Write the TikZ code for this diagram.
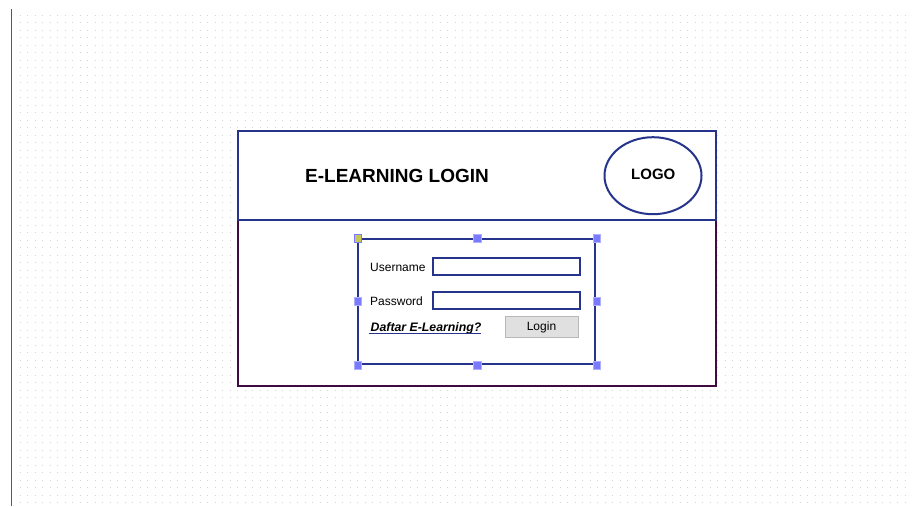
\documentclass[tikz,border=0pt]{standalone}
\usepackage{fontspec}
\setmainfont{Liberation Sans}
\usetikzlibrary{shapes.geometric}
\definecolor{frameblue}{RGB}{38,52,140}
\definecolor{framepurple}{RGB}{62,12,64}
\definecolor{handle}{RGB}{122,122,255}
\definecolor{handley}{RGB}{200,200,90}
\definecolor{dotgray}{RGB}{212,212,212}
\definecolor{btnfill}{RGB}{224,224,224}
\definecolor{btnedge}{RGB}{184,184,184}
\begin{document}
\begin{tikzpicture}[x=1pt,y=-1pt,
  bluebox/.style={draw=frameblue,line width=2pt},
  handlebox/.style={fill=handle,draw=handle!60,line width=0.5pt,minimum size=7.5pt,inner sep=0pt,rectangle},
  lbl/.style={anchor=base west,inner sep=0pt,font=\fontsize{12}{14}\selectfont},
]
\useasboundingbox (0,0) rectangle (912,506);
\fill[white] (0,0) rectangle (912,506);
% dot grid
\foreach \i in {0,...,65}{
  \draw[dotgray,line width=1pt,dash pattern=on 1pt off 6.5pt] (19.5,15+7.5*\i) -- (908,15+7.5*\i);
}
% left vertical rule
\draw[gray!70!black,line width=1.5pt] (11.5,9) -- (11.5,506);
% outer frame
\fill[white] (238,131) rectangle (716,386);
\draw[draw=framepurple,line width=2pt] (238,220) rectangle (716,386);
\draw[bluebox] (238,131) rectangle (716,220);
\node[bluebox,ellipse,minimum width=97pt,minimum height=77pt,inner sep=0pt] (logo) at (653,175.7) {};
\node[anchor=base west,inner sep=0pt,font=\fontsize{19}{22}\selectfont\bfseries] (title) at (305,182.3) {E-LEARNING LOGIN};
\node[anchor=base west,inner sep=0pt,font=\fontsize{15}{18}\selectfont\bfseries] (logotext) at (631,179) {LOGO};
% inner login panel
\draw[bluebox] (357.7,239) rectangle (594.5,363.5);
\node[lbl] (user) at (370,271.5) {Username};
\draw[bluebox] (433.3,257.5) rectangle (579.5,275);
\node[lbl] (pass) at (370,305.5) {Password};
\draw[bluebox] (433.3,292) rectangle (579.5,309);
\node[lbl,font=\fontsize{12.3}{14}\selectfont\bfseries\itshape] (daftar) at (370.5,331) {Daftar E-Learning?};
\draw[frameblue,line width=1.5pt] (369,333.7) -- (481,333.7);
\node[draw=btnedge,fill=btnfill,line width=1pt,minimum width=73pt,minimum height=21pt,inner sep=0pt,rectangle] (login) at (542.3,326.8) {};
\node[anchor=base,inner sep=0pt,font=\fontsize{12}{14}\selectfont] (logintext) at (541.5,330.7) {Login};
% selection handles
\node[handlebox,fill=handley,draw=handle] (h1) at (357.5,238) {};
\node[handlebox] (h2) at (477,238) {};
\node[handlebox] (h3) at (596.5,238) {};
\node[handlebox] (h4) at (357.5,301) {};
\node[handlebox] (h5) at (596.5,301) {};
\node[handlebox] (h6) at (357.5,365) {};
\node[handlebox] (h7) at (477,365) {};
\node[handlebox] (h8) at (596.5,365) {};
\end{tikzpicture}
\end{document}
